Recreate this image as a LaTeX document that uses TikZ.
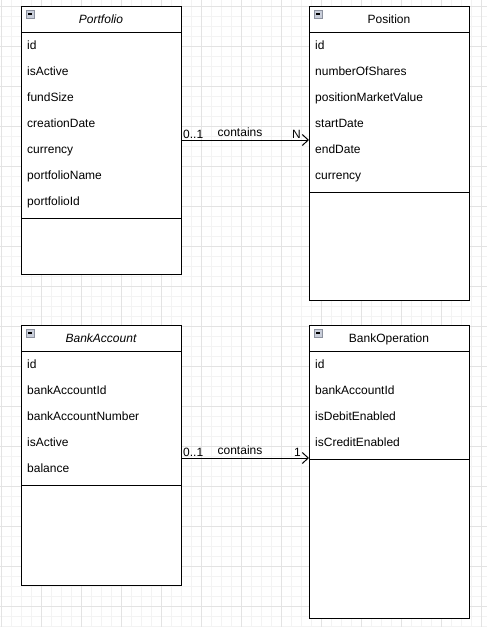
\documentclass[tikz,border=0pt]{standalone}
\usepackage{fontspec}
\setmainfont{Liberation Sans}
\usetikzlibrary{arrows.meta}
\definecolor{gridminor}{HTML}{F3F3F3}
\definecolor{gridmajor}{HTML}{E3E3E3}
\definecolor{iconfill}{HTML}{C9CEDA}
\definecolor{iconedge}{HTML}{8C919E}
\tikzset{
  box/.style={draw=black, line width=1pt, fill=white},
  sepline/.style={draw=black, line width=1pt},
  field/.style={anchor=base west, inner sep=0pt, font=\fontsize{12}{14}\selectfont},
  title/.style={anchor=base, inner sep=0pt, font=\fontsize{12}{14}\selectfont},
  lbl/.style={inner sep=0pt, font=\fontsize{12}{14}\selectfont, anchor=base},
  assoc/.style={draw=black, line width=1pt, -{Straight Barb[length=6pt,width=11pt,line width=1pt]}},
  icon/.style={draw=iconedge, fill=iconfill, line width=0.8pt}
}
\newcommand{\umlicon}[2]{%
  \draw[icon] (#1,#2) rectangle ++(8,8);
  \draw[black, line width=1.2pt] (#1+2,#2+4) -- (#1+6,#2+4);
}
\begin{document}
\begin{tikzpicture}[x=1pt,y=-1pt]
\useasboundingbox (0,0) rectangle (487,627);
\fill[white] (0,0) rectangle (487,627);
% grid
\foreach \i in {1,11,...,487} \draw[gridminor, line width=0.8pt] (\i,0) -- (\i,627);
\foreach \j in {6,16,...,627} \draw[gridminor, line width=0.8pt] (0,\j) -- (487,\j);
\foreach \i in {1,41,...,487} \draw[gridmajor, line width=0.8pt] (\i,0) -- (\i,627);
\foreach \j in {6,46,...,627} \draw[gridmajor, line width=0.8pt] (0,\j) -- (487,\j);

% Portfolio
\draw[box] (21,6) rectangle (181,274);
\draw[sepline] (21,32) -- (181,32);
\draw[sepline] (21,218) -- (181,218);
\umlicon{26}{10}
\node[title] (pT) at (101,23.5) {\itshape Portfolio};
\node[field] (p1) at (27,49.5) {id};
\node[field] (p2) at (27,75.5) {isActive};
\node[field] (p3) at (27,101.5) {fundSize};
\node[field] (p4) at (27,127.5) {creationDate};
\node[field] (p5) at (27,153.5) {currency};
\node[field] (p6) at (27,179.5) {portfolioName};
\node[field] (p7) at (27,205.5) {portfolioId};
\coordinate (pR) at (181,140);

% Position
\draw[box] (309,6) rectangle (469,300);
\draw[sepline] (309,32) -- (469,32);
\draw[sepline] (309,192) -- (469,192);
\umlicon{314}{10}
\node[title] (qT) at (389,23.5) {Position};
\node[field] (q1) at (315,49.5) {id};
\node[field] (q2) at (315,75.5) {numberOfShares};
\node[field] (q3) at (315,101.5) {positionMarketValue};
\node[field] (q4) at (315,127.5) {startDate};
\node[field] (q5) at (315,153.5) {endDate};
\node[field] (q6) at (315,179.5) {currency};
\coordinate (qL) at (309,140);

% BankAccount
\draw[box] (21,325) rectangle (181,585);
\draw[sepline] (21,351) -- (181,351);
\draw[sepline] (21,485) -- (181,485);
\umlicon{26}{329}
\node[title] (bT) at (101,342.5) {\itshape BankAccount};
\node[field] (b1) at (27,368.5) {id};
\node[field] (b2) at (27,394.5) {bankAccountId};
\node[field] (b3) at (27,420.5) {bankAccountNumber};
\node[field] (b4) at (27,446.5) {isActive};
\node[field] (b5) at (27,472.5) {balance};
\coordinate (bR) at (181,458);

% BankOperation
\draw[box] (309,325) rectangle (469,618);
\draw[sepline] (309,351) -- (469,351);
\draw[sepline] (309,459) -- (469,459);
\umlicon{314}{329}
\node[title] (oT) at (389,342.5) {BankOperation};
\node[field] (o1) at (315,368.5) {id};
\node[field] (o2) at (315,394.5) {bankAccountId};
\node[field] (o3) at (315,420.5) {isDebitEnabled};
\node[field] (o4) at (315,446.5) {isCreditEnabled};
\coordinate (oL) at (309,458);

% associations
\draw[assoc] (pR) -- (qL);
\node[lbl, anchor=base west] (l1) at (183,138.5) {0..1};
\node[lbl] (l2) at (240,136) {contains};
\node[lbl, anchor=base east] (l3) at (301,138.5) {N};

\draw[assoc] (bR) -- (oL);
\node[lbl, anchor=base west] (l4) at (183,456.5) {0..1};
\node[lbl] (l5) at (240,454) {contains};
\node[lbl, anchor=base east] (l6) at (301,456.5) {1};
\end{tikzpicture}
\end{document}
